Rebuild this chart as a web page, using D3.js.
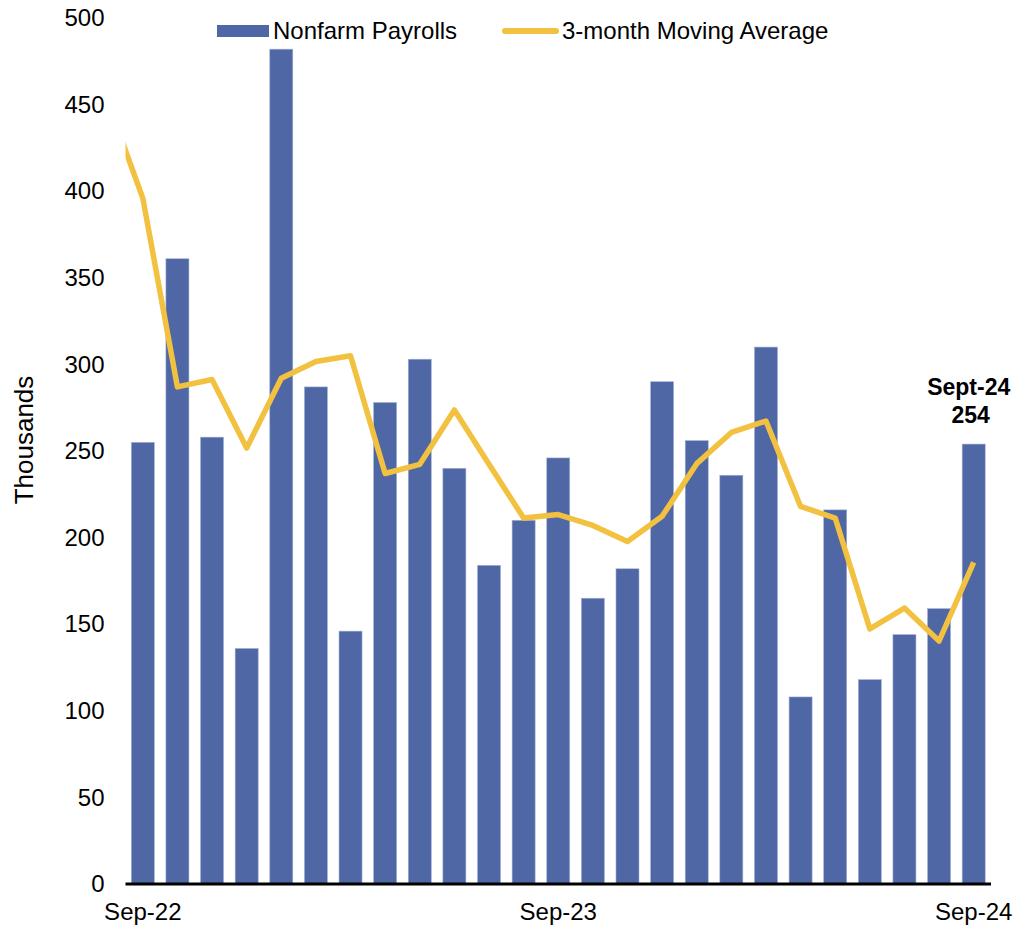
<!DOCTYPE html>
<html lang="en">
<head>
<meta charset="utf-8">
<title>Nonfarm Payrolls</title>
<style type="text/css">
body
{
   margin: 0;
   background: #fff;
}
text
{
   font-family: "Liberation Sans", Arial, sans-serif;
}
.bar
{
   fill: #4f67a5;
   stroke: #a3b1d6;
   stroke-width: 0.6;
}
.avg
{
   fill: none;
   stroke: #f3c140;
   stroke-width: 5.5;
   stroke-linejoin: round;
}
</style>
<script type="text/javascript" src="https://cdn.jsdelivr.net/npm/d3@7"></script>
</head>

<body>

<script type="text/javascript">
var w = 1016;
var h = 927;

// data
var months = ["Sep-22","Oct-22","Nov-22","Dec-22","Jan-23","Feb-23","Mar-23","Apr-23","May-23",
              "Jun-23","Jul-23","Aug-23","Sep-23","Oct-23","Nov-23","Dec-23","Jan-24","Feb-24",
              "Mar-24","Apr-24","May-24","Jun-24","Jul-24","Aug-24","Sep-24"];
var payrolls = [255, 361, 258, 136, 482, 287, 146, 278, 303, 240, 184, 210, 246,
                165, 182, 290, 256, 236, 310, 108, 216, 118, 144, 159, 254];
// 3-month moving average, first value is Aug-22 (runs off the left edge)
var avgMonths = ["Aug-22"].concat(months);
var movingAvg = [451, 396, 287, 291.3, 251.7, 292, 301.7, 305, 237, 242.3, 273.7, 242.3, 211.3,
                 213.3, 207, 197.7, 212.3, 242.7, 260.7, 267.3, 218, 211.3, 147.3, 159.3, 140.3, 185.7];
var yTicks = [0, 50, 100, 150, 200, 250, 300, 350, 400, 450, 500];
var xTicks = ["Sep-22", "Sep-23", "Sep-24"];

var pLeft = 125.5, pRight = 991, pTop = 18, pBottom = 884;

var svg = d3.select("body")
            .append("svg")
            .attr("width", w)
            .attr("height", h);

var x = d3.scaleBand()
          .domain(months)
          .range([pLeft, pRight])
          .paddingInner(0.335)
          .paddingOuter(0.1675);

var y = d3.scaleLinear()
          .domain([0, 500])
          .range([pBottom, pTop]);

var bw = x.bandwidth();
// index scale for the line so the Aug-22 point sits one step left of Sep-22
var xi = d3.scaleLinear()
           .domain([0, months.length - 1])
           .range([x(months[0]) + bw / 2, x(months[months.length - 1]) + bw / 2]);

svg.append("clipPath")
   .attr("id", "plot")
   .append("rect")
   .attr("x", pLeft)
   .attr("y", 0)
   .attr("width", pRight - pLeft)
   .attr("height", pBottom);

svg.selectAll("rect.bar")
   .data(payrolls)
   .enter()
   .append("rect")
   .attr("class", "bar")
   .attr("x", function(d, i){ return x(months[i]); })
   .attr("y", function(d){ return y(d); })
   .attr("width", bw)
   .attr("height", function(d){ return y(0) - y(d); });

var line = d3.line()
             .x(function(d, i){ return xi(i - 1); })
             .y(function(d){ return y(d); });

svg.append("path")
   .datum(movingAvg)
   .attr("class", "avg")
   .attr("clip-path", "url(#plot)")
   .attr("d", line);

// y axis labels only
var yAxis = svg.append("g")
               .attr("transform", "translate(" + pLeft + ",0)")
               .call(d3.axisLeft(y).tickValues(yTicks).tickSize(0).tickPadding(21));
yAxis.select(".domain").remove();
yAxis.selectAll("text")
     .style("font-size", "24px")
     .style("fill", "#000")
     .style("font-family", "'Liberation Sans', Arial, sans-serif");

// x axis
var xAxis = svg.append("g")
               .attr("transform", "translate(0," + pBottom + ")")
               .call(d3.axisBottom(x).tickValues(xTicks).tickSize(0).tickPadding(19));
xAxis.select(".domain").remove();
xAxis.selectAll("text")
     .style("font-size", "24px")
     .style("fill", "#000")
     .style("font-family", "'Liberation Sans', Arial, sans-serif");

svg.append("line")
   .attr("x1", pLeft)
   .attr("x2", pRight)
   .attr("y1", pBottom)
   .attr("y2", pBottom)
   .style("stroke", "#000")
   .style("stroke-width", 3);

svg.append("text")
   .attr("transform", "translate(33,440) rotate(-90)")
   .attr("text-anchor", "middle")
   .style("font-size", "26px")
   .text("Thousands");

// legend
var legend = svg.append("g");
legend.append("rect")
      .attr("x", 217)
      .attr("y", 25)
      .attr("width", 52)
      .attr("height", 12)
      .style("fill", "#4f67a5");
legend.append("text")
      .attr("x", 273)
      .attr("y", 39)
      .style("font-size", "24px")
      .text("Nonfarm Payrolls");
legend.append("line")
      .attr("x1", 505)
      .attr("x2", 556)
      .attr("y1", 31)
      .attr("y2", 31)
      .style("stroke", "#f3c140")
      .style("stroke-width", 6)
      .style("stroke-linecap", "round");
legend.append("text")
      .attr("x", 562)
      .attr("y", 39)
      .style("font-size", "24px")
      .text("3-month Moving Average");

// last value callout
var last = months.length - 1;
var callout = svg.append("g")
                 .attr("text-anchor", "middle")
                 .style("font-size", "23px")
                 .style("font-weight", "bold");
callout.append("text")
       .attr("x", x(months[last]) + bw / 2 - 5)
       .attr("y", y(payrolls[last]) - 49)
       .text("Sept-24");
callout.append("text")
       .attr("x", x(months[last]) + bw / 2 - 3)
       .attr("y", y(payrolls[last]) - 21)
       .text(payrolls[last]);
</script>
</body>
</html>
